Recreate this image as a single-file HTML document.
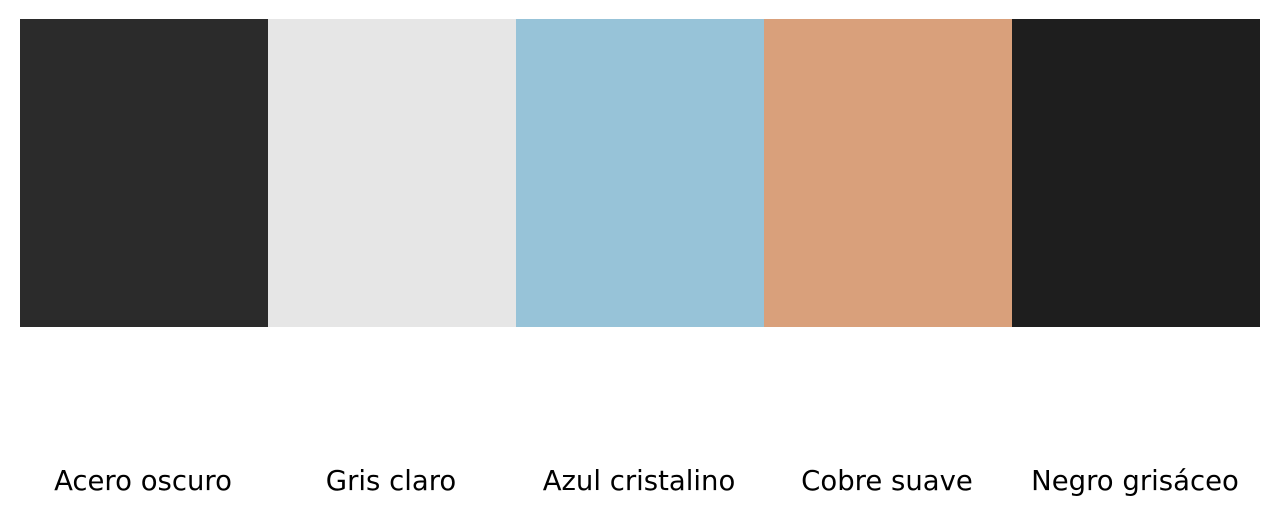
<!DOCTYPE html>
<html><head><meta charset="utf-8">
<style>
html,body{margin:0;padding:0;background:#fff;width:1280px;height:516px;overflow:hidden}
#chart{position:relative;width:1280px;height:516px}
.sw{position:absolute;top:19px;height:308px}
.lb{position:absolute;top:465px;width:248px;text-align:center;font-family:"DejaVu Sans","Liberation Sans",sans-serif;font-size:27.5px;color:#000;white-space:nowrap}
</style></head>
<body>
<div id="chart"></div>
<script>
const names = ["Acero oscuro","Gris claro","Azul cristalino","Cobre suave","Negro grisáceo"];
const colors = ["#2b2b2b","#e6e6e6","#97c3d8","#d9a07b","#1e1e1e"];
const chart = document.getElementById('chart');
const x0 = 20, totalW = 1240;
const w = totalW / names.length;
names.forEach((n, i) => {
  const s = document.createElement('div');
  s.className = 'sw';
  
  
  s.style.left = (x0 + i * w - 0.5) + 'px';
  s.style.width = w + 'px';
  s.style.background = colors[i];
  chart.appendChild(s);
  const l = document.createElement('div');
  l.className = 'lb';
  
  
  l.style.left = (x0 + i * w - 1) + 'px';
  l.style.width = w + 'px';
  l.textContent = n;
  chart.appendChild(l);
});
</script>
</body></html>
